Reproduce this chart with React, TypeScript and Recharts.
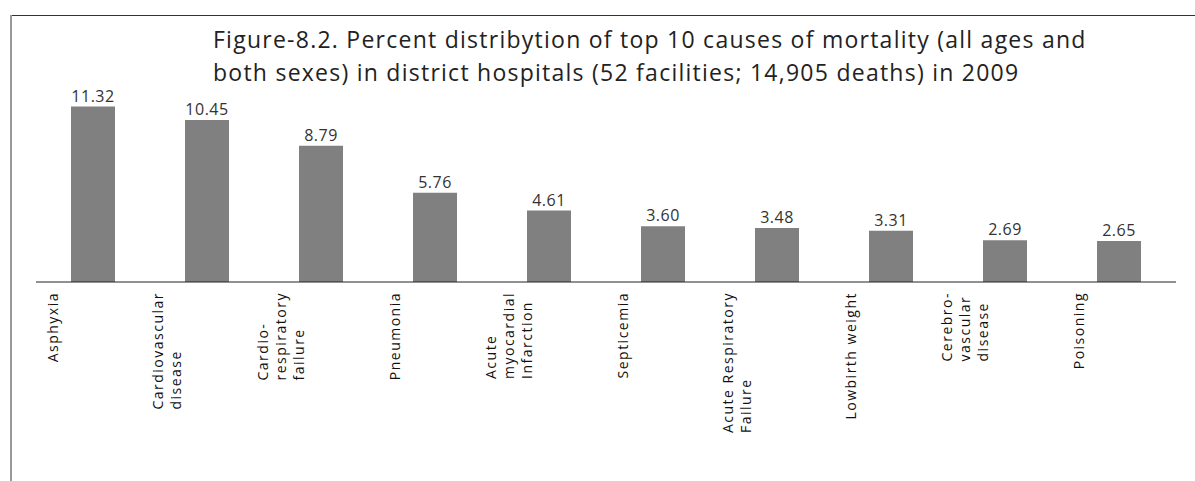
import { BarChart, Bar, XAxis, YAxis, LabelList } from "recharts";

// Figure 8.2 – top 10 causes of mortality in district hospitals, 2009
const causes = [
  "Asphyxia",
  "Cardiovascular\ndisease",
  "Cardio-\nrespiratory\nfailure",
  "Pneumonia",
  "Acute\nmyocardial\nInfarction",
  "Septicemia",
  "Acute Respiratory\nFailure",
  "Lowbirth weight",
  "Cerebro-\nvascular\ndisease",
  "Poisoning",
];
const percent = [11.32, 10.45, 8.79, 5.76, 4.61, 3.6, 3.48, 3.31, 2.69, 2.65];
const titleLines = [
  "Figure-8.2. Percent distribytion of top 10 causes of mortality (all ages and",
  "both sexes) in district hospitals (52 facilities; 14,905 deaths) in 2009",
];

const data = causes.map((c, i) => ({ cause: c, value: percent[i] }));

const font = "'Open Sans', 'DejaVu Sans', sans-serif";
const tickSize = 14;
const tickSpacing = 1.5;

let ctx: CanvasRenderingContext2D | null = null;
function textWidth(s: string) {
  if (!ctx) {
    ctx = document.createElement("canvas").getContext("2d");
    if (ctx) ctx.font = `${tickSize}px ${font}`;
  }
  const w = ctx ? ctx.measureText(s).width : s.length * tickSize * 0.5;
  return w + s.length * tickSpacing;
}

// rotated labels: lines share a common start (bottom), longest line ends just under the axis
function CauseTick(props: any) {
  const { x, y, payload } = props;
  const lines = String(payload.value).split("\n");
  const lh = 18;
  const first = -((lines.length - 1) * lh) / 2 + 5;
  const longest = Math.max(...lines.map(textWidth));
  return (
    <g transform={`translate(${x - 40},${y + 2})`}>
      <text
        transform="rotate(-90)"
        textAnchor="start"
        fontSize={tickSize}
        fontFamily={font}
        letterSpacing={tickSpacing}
        fill="#111"
      >
        {lines.map((l, i) => (
          <tspan key={i} x={-longest} y={first + i * lh}>
            {l}
          </tspan>
        ))}
      </text>
    </g>
  );
}

export default function App() {
  return (
    <div style={{ position: "absolute", left: 0, top: 0, width: 1195, height: 481, background: "#fff" }}>
      {/* frame lines of the scanned page */}
      <div style={{ position: "absolute", left: 10, top: 15, width: 1185, height: 0, borderTop: "1px solid #333" }} />
      <div style={{ position: "absolute", left: 10, top: 15, width: 0, height: 466, borderLeft: "2px solid #999" }} />

      <BarChart
        width={1195}
        height={481}
        data={data}
        margin={{ top: 96, right: 19, bottom: 9, left: 36 }}
      >
        <YAxis hide domain={[0, 12]} />
        <XAxis
          dataKey="cause"
          interval={0}
          height={190}
          tickLine={false}
          axisLine={{ stroke: "#222", strokeWidth: 1 }}
          tick={<CauseTick />}
        />
        <Bar dataKey="value" fill="#808080" barSize={44} isAnimationActive={false}>
          <LabelList
            dataKey="value"
            position="top"
            offset={5}
            formatter={(v: any) => Number(v).toFixed(2)}
            style={{ fontSize: 16, fontFamily: font, fill: "#333", letterSpacing: 0.5 }}
          />
        </Bar>
      </BarChart>

      <div
        style={{
          position: "absolute",
          left: 213,
          top: 23,
          fontFamily: font,
          fontSize: 23,
          letterSpacing: 1.25,
          lineHeight: "33px",
          color: "#222",
          whiteSpace: "nowrap",
        }}
      >
        {titleLines.map((t, i) => (
          <div key={i}>{t}</div>
        ))}
      </div>
    </div>
  );
}
